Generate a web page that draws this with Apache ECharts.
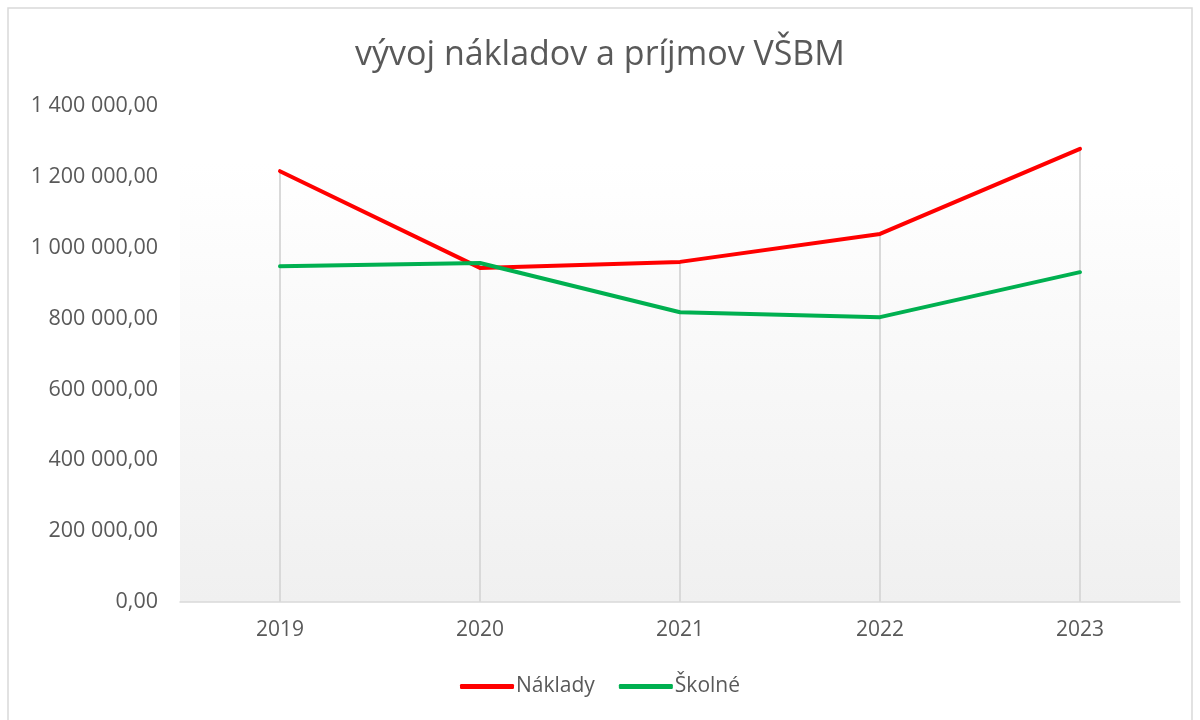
<!DOCTYPE html>
<html>
<head>
<meta charset="utf-8">
<script src="https://cdn.jsdelivr.net/npm/echarts@6/dist/echarts.min.js"></script>
<style>
    html, body { margin: 0; padding: 0; background: #fff; }
    #main { width: 1200px; height: 720px; }
</style>
</head>
<body>
<div id="main"></div>
<script>
var years = ['2019', '2020', '2021', '2022', '2023'];
var naklady = [1216000, 943000, 960000, 1039000, 1279000];
var skolne = [948000, 957000, 818000, 804000, 931000];

// vertical drop lines go from the higher of the two points down to the axis
var dropTops = [];
for (var i = 0; i < years.length; i++) {
    dropTops.push(Math.max(naklady[i], skolne[i]));
}

function formatNum(v) {
    var s = v.toFixed(2).split('.');
    var intPart = s[0].replace(/\B(?=(\d{3})+(?!\d))/g, ' ');
    return intPart + ',' + s[1];
}

var myChart = echarts.init(document.getElementById('main'));

var font = 'Open Sans';

var option = {
    backgroundColor: '#ffffff',
    animation: false,
    title: {
        text: 'vývoj nákladov a príjmov VŠBM',
        left: 'center',
        top: 33,
        textStyle: {
            fontFamily: font,
            fontSize: 34,
            fontWeight: 'normal',
            color: '#595959'
        }
    },
    graphic: [
        {
            type: 'rect',
            z: -10,
            shape: { x: 8, y: 8, width: 1184, height: 730 },
            style: { fill: 'none', stroke: '#d9d9d9', lineWidth: 1.5 }
        },
        {
            type: 'rect',
            z: -5,
            shape: { x: 180, y: 163, width: 1000, height: 439 },
            style: {
                fill: new echarts.graphic.LinearGradient(0, 0, 0, 1, [
                    { offset: 0, color: '#ffffff' },
                    { offset: 1, color: '#f0f0f0' }
                ])
            }
        }
    ],
    legend: {
        data: ['Náklady', 'Školné'],
        bottom: 18,
        left: 'center',
        icon: 'roundRect',
        itemWidth: 54,
        itemHeight: 5,
        itemGap: 24,
        textStyle: {
            fontFamily: font,
            fontSize: 21,
            color: '#595959',
            padding: [0, 0, 0, -3]
        }
    },
    grid: {
        left: 180,
        right: 20,
        top: 106,
        bottom: 118
    },
    xAxis: {
        type: 'category',
        boundaryGap: true,
        data: years,
        axisLine: { lineStyle: { color: '#d9d9d9', width: 1.5 } },
        axisTick: { show: false },
        axisLabel: {
            fontFamily: font,
            fontSize: 21,
            color: '#595959',
            margin: 18
        },
        splitLine: { show: false }
    },
    yAxis: {
        type: 'value',
        min: 0,
        max: 1400000,
        interval: 200000,
        axisLine: { show: false },
        axisTick: { show: false },
        splitLine: { show: false },
        axisLabel: {
            fontFamily: font,
            fontSize: 21.5,
            color: '#595959',
            margin: 22,
            formatter: function (v) { return formatNum(v); }
        }
    },
    series: [
        {
            name: 'drop',
            type: 'bar',
            data: dropTops,
            barWidth: 2,
            z: 1,
            itemStyle: { color: '#d9d9d9' },
            silent: true
        },
        {
            name: 'Náklady',
            type: 'line',
            data: naklady,
            showSymbol: false,
            symbol: 'none',
            z: 3,
            lineStyle: { color: '#ff0000', width: 4, cap: 'round', join: 'round' },
            itemStyle: { color: '#ff0000' }
        },
        {
            name: 'Školné',
            type: 'line',
            data: skolne,
            showSymbol: false,
            symbol: 'none',
            z: 3,
            lineStyle: { color: '#00b050', width: 4, cap: 'round', join: 'round' },
            itemStyle: { color: '#00b050' }
        }
    ]
};

myChart.setOption(option);
</script>
</body>
</html>
